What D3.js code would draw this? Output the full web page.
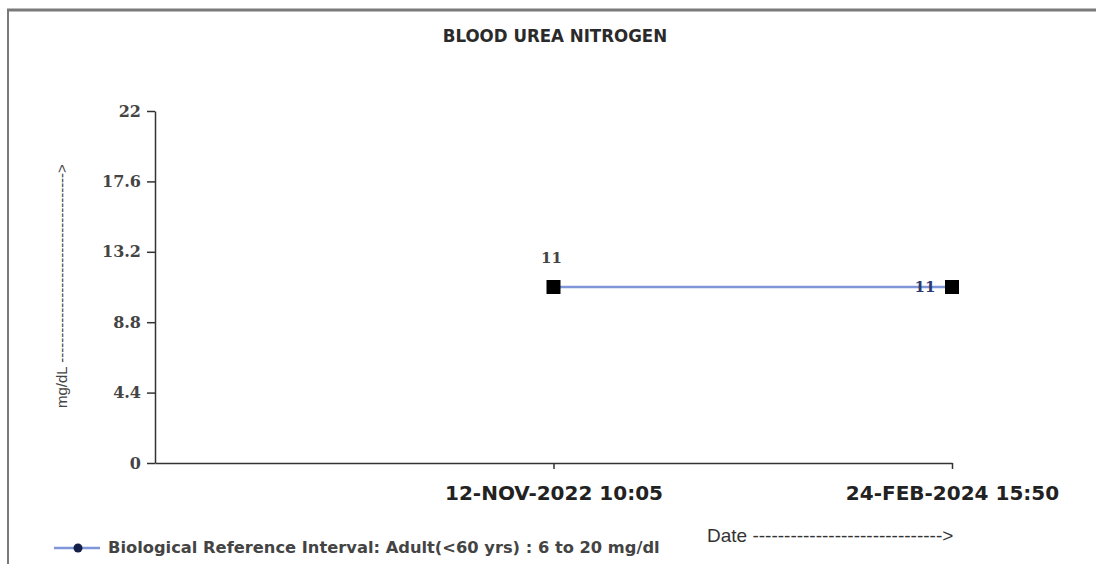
<!DOCTYPE html>
<html>
<head>
<meta charset="utf-8">
<script src="https://cdn.jsdelivr.net/npm/d3@7"></script>
<style>
  html, body { margin: 0; padding: 0; background: #ffffff; }
  svg { display: block; }
</style>
</head>
<body>
<svg id="chart" width="1096" height="564"></svg>
<script>
// ---- data ----
const title = "BLOOD UREA NITROGEN";
const categories = ["12-NOV-2022 10:05", "24-FEB-2024 15:50"];
const values = [11, 11];
const yTicks = [0, 4.4, 8.8, 13.2, 17.6, 22];
const yLabel = "mg/dL -------------------------------------->";
const xLabel = "Date ------------------------------>";
const legendLabel = "Biological Reference Interval: Adult(<60 yrs) : 6 to 20 mg/dl";

const svg = d3.select("#chart");

// frame (top + left)
svg.append("line").attr("x1", 7).attr("x2", 1096).attr("y1", 10).attr("y2", 10)
  .attr("stroke", "#7a7a7a").attr("stroke-width", 3);
svg.append("line").attr("x1", 8).attr("x2", 8).attr("y1", 9).attr("y2", 564)
  .attr("stroke", "#7a7a7a").attr("stroke-width", 2);

// scales
const y = d3.scaleLinear().domain([0, 22]).range([463, 111]);
const x = d3.scaleLinear().domain([0, categories.length]).range([155, 952]);

// title
svg.append("text").attr("x", 555).attr("y", 42).attr("text-anchor", "middle")
  .attr("font-family", "'DejaVu Sans Condensed', 'DejaVu Sans'")
  .attr("font-stretch", "condensed")
  .attr("font-weight", "bold").attr("font-size", 18.5).attr("fill", "#2a2a2a")
  .text(title);

// y axis
const yAxis = svg.append("g").attr("transform", "translate(155,0)")
  .call(d3.axisLeft(y).tickValues(yTicks).tickSize(8).tickSizeOuter(0)
    .tickFormat(d => d === 0 ? "0" : d3.format("")(d)));
yAxis.select(".domain").attr("stroke", "#333").attr("stroke-width", 1.5);
yAxis.selectAll(".tick line").attr("stroke", "#333").attr("stroke-width", 1.5);
yAxis.selectAll(".tick text")
  .attr("font-family", "'DejaVu Serif', serif").attr("font-weight", "bold")
  .attr("font-size", 16).attr("fill", "#444").attr("x", -14);

// x axis
const xAxis = svg.append("g").attr("transform", "translate(0,463)")
  .call(d3.axisBottom(x).tickValues(categories.map((c, i) => i + 1))
    .tickFormat(i => categories[i - 1]).tickSize(6).tickSizeOuter(0));
xAxis.select(".domain").attr("stroke", "#333").attr("stroke-width", 1.5);
xAxis.selectAll(".tick line").attr("stroke", "#333").attr("stroke-width", 1.5);
xAxis.selectAll(".tick text")
  .attr("font-family", "'DejaVu Sans', sans-serif").attr("font-weight", "bold")
  .attr("font-size", 20).attr("fill", "#222").attr("dy", 0).attr("y", 37);

// y axis label
svg.append("text")
  .attr("transform", "translate(67,408) rotate(-90)")
  .attr("font-family", "'Liberation Sans', Arial, sans-serif")
  .attr("font-size", 15).attr("fill", "#444")
  .text(yLabel);

// series line
const line = d3.line().x((d, i) => x(i + 1)).y(d => y(d));
svg.append("path").datum(values).attr("d", line)
  .attr("fill", "none").attr("stroke", "#7f97d8").attr("stroke-width", 2.5);

// markers
svg.selectAll("rect.pt").data(values).enter().append("rect").attr("class", "pt")
  .attr("x", (d, i) => x(i + 1) - 7).attr("y", d => y(d) - 7)
  .attr("width", 14).attr("height", 14).attr("fill", "#000");

// value labels
svg.selectAll("text.val").data(values).enter().append("text").attr("class", "val")
  .attr("x", (d, i) => i === 0 ? x(i + 1) - 2 : x(i + 1) - 27)
  .attr("y", (d, i) => i === 0 ? y(d) - 24 : y(d) + 5)
  .attr("text-anchor", "middle")
  .attr("font-family", "'DejaVu Serif', serif").attr("font-weight", "bold")
  .attr("font-size", 15)
  .attr("fill", (d, i) => i === 0 ? "#444" : "#2b3a6e")
  .text(d => d);

// legend
const ly = 548;
svg.append("line").attr("x1", 54).attr("x2", 100).attr("y1", ly).attr("y2", ly)
  .attr("stroke", "#7f97d8").attr("stroke-width", 2.5);
svg.append("circle").attr("cx", 78).attr("cy", ly).attr("r", 4.5).attr("fill", "#14204a");
svg.append("text").attr("x", 108).attr("y", ly + 5)
  .attr("font-family", "'DejaVu Sans', sans-serif").attr("font-weight", "bold")
  .attr("font-size", 16.3).attr("fill", "#444")
  .text(legendLabel);

// x axis label
svg.append("text").attr("x", 707).attr("y", 542)
  .attr("font-family", "'Liberation Sans', Arial, sans-serif")
  .attr("font-size", 19).attr("fill", "#333")
  .text(xLabel);
</script>
</body>
</html>
